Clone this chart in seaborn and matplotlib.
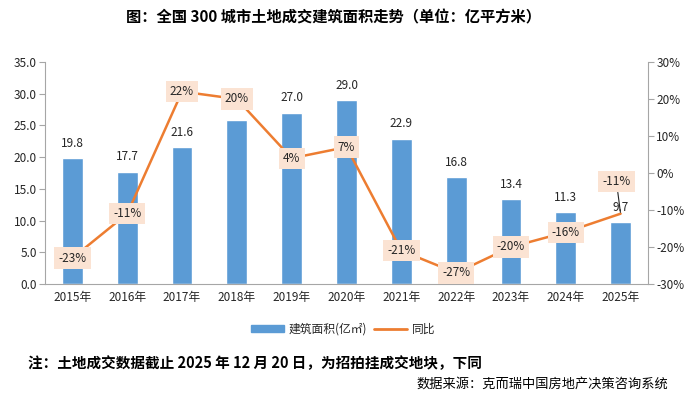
import numpy as np
import pandas as pd
import seaborn as sns
import matplotlib.pyplot as plt
from matplotlib.patches import Patch
from matplotlib.lines import Line2D

# data
years = ['2015年', '2016年', '2017年', '2018年', '2019年', '2020年',
         '2021年', '2022年', '2023年', '2024年', '2025年']
area = [19.8, 17.7, 21.6, 25.9, 27.0, 29.0, 22.9, 16.8, 13.4, 11.3, 9.7]
yoy = [-23, -11, 22, 20, 4, 7, -21, -27, -20, -16, -11]
area_labels = ['19.8', '17.7', '21.6', '', '27.0', '29.0', '22.9', '16.8', '13.4', '11.3', '9.7']
yoy_labels = ['-23%', '-11%', '22%', '20%', '4%', '7%', '-21%', '-27%', '-20%', '-16%', '-11%']

title = '图：全国 300 城市土地成交建筑面积走势（单位：亿平方米）'
note = '注：土地成交数据截止 2025 年 12 月 20 日，为招拍挂成交地块，下同'
source = '数据来源：克而瑞中国房地产决策咨询系统'

bar_color = '#5B9BD5'
line_color = '#ED7D31'
box_color = '#FBE3D3'
axis_color = '#A6A6A6'
text_color = '#262626'

sns.set_style('white')
plt.rcParams['font.family'] = ['Noto Sans CJK SC', 'DejaVu Sans']

df = pd.DataFrame({'year': years, 'area': area, 'yoy': yoy})
df['pos'] = np.arange(len(df))

W, H = 688, 396
fig = plt.figure(figsize=(W / 100, H / 100), dpi=100)
ax = fig.add_axes([45 / W, 1 - 284 / H, (648 - 45) / W, (284 - 62) / H])

sns.barplot(data=df, x='year', y='area', color=bar_color, saturation=1,
            width=0.38, ax=ax)
ax.set_xlim(-0.5, len(df) - 0.5)
ax.set_ylim(0, 35)
ax.set_yticks(np.arange(0, 35.1, 5))
ax.set_yticklabels([f'{v:.1f}' for v in np.arange(0, 35.1, 5)])
ax.set_xlabel('')
ax.set_ylabel('')

# bar value labels (2018 hidden behind the line label in the original)
for i, lab in enumerate(area_labels):
    if lab:
        ax.annotate(lab, (i, df['area'][i]), xytext=(0, 6), textcoords='offset points',
                    ha='center', va='bottom', fontsize=8.5, color=text_color)

ax2 = ax.twinx()
sns.lineplot(data=df, x='pos', y='yoy', color=line_color, linewidth=1.8, ax=ax2)
ax2.set_ylim(-30, 30)
ax2.set_yticks(np.arange(-30, 31, 10))
ax2.set_yticklabels([f'{v}%' for v in range(-30, 31, 10)])
ax2.set_xlabel('')
ax2.set_ylabel('')

# yoy labels in boxes; last one lifted with a leader line
for i, lab in enumerate(yoy_labels):
    bbox = dict(boxstyle='square,pad=0.35', fc=box_color, ec='none')
    if i == len(yoy_labels) - 1:
        ax2.annotate(lab, (i, df['yoy'][i]), xytext=(-3, 23), textcoords='offset points',
                     ha='center', va='center', fontsize=8.5, color=text_color, bbox=bbox,
                     arrowprops=dict(arrowstyle='-', color='#222222', lw=0.8,
                                     shrinkA=0, shrinkB=1))
    else:
        ax2.annotate(lab, (i, df['yoy'][i]), xytext=(0, 0), textcoords='offset points',
                     ha='center', va='center', fontsize=8.5, color=text_color, bbox=bbox)

# axes styling, Excel look
for a in (ax, ax2):
    a.spines['top'].set_visible(False)
    for side in ('left', 'right', 'bottom'):
        a.spines[side].set_color(axis_color)
        a.spines[side].set_linewidth(0.8)
    a.grid(False)

ax.spines['right'].set_visible(False)
ax2.spines['left'].set_visible(False)
ax2.spines['bottom'].set_visible(False)

ax.tick_params(axis='y', direction='out', length=4, color=axis_color, labelsize=8.5,
               labelcolor=text_color, pad=2)
ax2.tick_params(axis='y', direction='out', length=4, color=axis_color, labelsize=8.5,
                labelcolor=text_color, pad=2)
ax.tick_params(axis='x', which='major', length=0, labelsize=8.5, labelcolor=text_color, pad=5)
ax.set_xticks(np.arange(-0.5, len(df)), minor=True)
ax.tick_params(axis='x', which='minor', length=4, color=axis_color)

handles = [Patch(color=bar_color), Line2D([0], [0], color=line_color, lw=2)]
fig.legend(handles, ['建筑面积(亿㎡)', '同比'], loc='center',
           bbox_to_anchor=(343 / W, 1 - 329 / H), ncol=2, frameon=False,
           fontsize=8.5, handlelength=2.8, handleheight=0.6, columnspacing=0.6,
           handletextpad=0.4, labelcolor=text_color)

fig.text(334 / W, 1 - 17 / H, title, ha='center', va='center', fontsize=11,
         fontweight='bold', color='#000000')
fig.text(28 / W, 1 - 363 / H, note, ha='left', va='center', fontsize=10.5,
         fontweight='bold', color='#000000')
fig.text(668 / W, 1 - 384 / H, source, ha='right', va='center', fontsize=9.5,
         color='#000000')

fig.savefig('out.png', dpi=100)
